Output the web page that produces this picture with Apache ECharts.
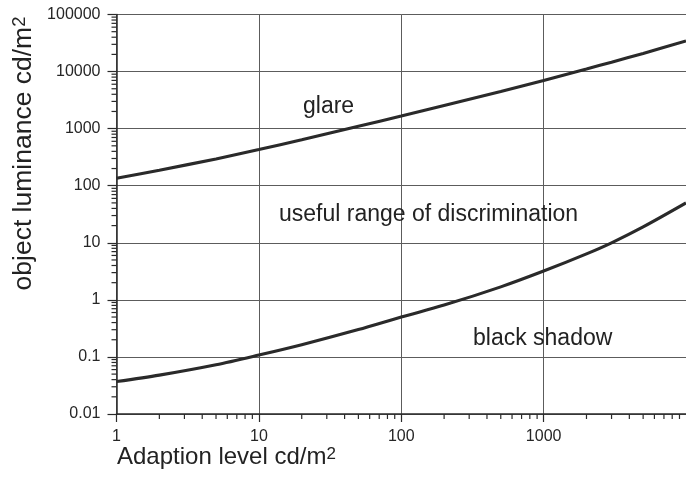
<!DOCTYPE html>
<html>
<head>
<meta charset="utf-8">
<script src="https://cdn.jsdelivr.net/npm/echarts@6/dist/echarts.min.js"></script>
<style>
  html, body { margin: 0; padding: 0; background: #fff; }
  #chart { width: 686px; height: 478px; }
</style>
</head>
<body>
<div id="chart"></div>
<script>
// Adaption level (cd/m²) and the two limit curves of object luminance (cd/m²)
const adaptionLevels = [1, 2, 5, 10, 20, 50, 100, 200, 500, 1000, 2000, 3000, 5000, 10000];
const glareLimit     = [135, 187, 295, 430, 640, 1100, 1660, 2540, 4490, 7000, 11100, 14600, 20800, 34400];
const shadowLimit    = [0.037, 0.048, 0.073, 0.108, 0.164, 0.302, 0.50, 0.81, 1.69, 3.2, 6.4, 10, 19, 50];

// Axis tick labels, one per decade
const xTickLabels = ['1', '10', '100', '1000', '10000'];
const yTickLabels = ['0.01', '0.1', '1', '10', '100', '1000', '10000', '100000'];

// Minor ticks: multiples 2..9 within each decade
const minorSteps = [2, 3, 4, 5, 6, 7, 8, 9];
const xDecades = [1, 10, 100, 1000];
const yDecades = [0.01, 0.1, 1, 10, 100, 1000, 10000];

const FONT = "'Liberation Sans', Arial, Helvetica, sans-serif";
const INK = '#2a2a2a';
const GRID = '#5c5c5c';

const xMinor = [];
xDecades.forEach(d => minorSteps.forEach(m => xMinor.push([d * m, 0.01])));
const yMinor = [];
yDecades.forEach(d => minorSteps.forEach(m => yMinor.push([1, +(d * m).toPrecision(3)])));

function decadeIndex(v) { return Math.round(Math.log10(v)); }

const chart = echarts.init(document.getElementById('chart'), null, { renderer: 'canvas' });

chart.setOption({
  animation: false,
  backgroundColor: '#ffffff',
  grid: { left: 116.5, right: -6, top: 14.5, bottom: 64 },
  xAxis: {
    type: 'log',
    logBase: 10,
    min: 1,
    max: 10000,
    axisLine: { show: true, onZero: false, lineStyle: { color: INK, width: 1.5 } },
    axisTick: { show: true, length: 8, lineStyle: { color: INK, width: 1.2 } },
    axisLabel: {
      fontFamily: FONT, fontSize: 16, color: '#262626', margin: 15,
      showMaxLabel: false,
      formatter: v => xTickLabels[decadeIndex(v)]
    },
    splitLine: { show: true, lineStyle: { color: GRID, width: 1 } }
  },
  yAxis: {
    type: 'log',
    logBase: 10,
    min: 0.01,
    max: 100000,
    axisLine: { show: true, lineStyle: { color: INK, width: 1.5 } },
    axisTick: { show: true, length: 9, lineStyle: { color: INK, width: 1.2 } },
    axisLabel: {
      fontFamily: FONT, fontSize: 16, color: '#262626', margin: 16,
      formatter: v => yTickLabels[decadeIndex(v) + 2]
    },
    splitLine: { show: true, lineStyle: { color: GRID, width: 1 } }
  },
  series: [
    {
      name: 'glare',
      type: 'line',
      data: adaptionLevels.map((x, i) => [x, glareLimit[i]]),
      smooth: 0.3,
      showSymbol: false,
      lineStyle: { color: INK, width: 3.1 },
      z: 5
    },
    {
      name: 'black shadow',
      type: 'line',
      data: adaptionLevels.map((x, i) => [x, shadowLimit[i]]),
      smooth: 0.3,
      showSymbol: false,
      lineStyle: { color: INK, width: 3.1 },
      z: 5
    },
    {
      // minor ticks below the x axis
      type: 'custom',
      coordinateSystem: 'cartesian2d',
      silent: true,
      clip: false,
      data: xMinor,
      renderItem: (params, api) => {
        const p = api.coord([api.value(0), api.value(1)]);
        return { type: 'line', shape: { x1: p[0], y1: p[1], x2: p[0], y2: p[1] + 5 },
                 style: { stroke: INK, lineWidth: 1.2 } };
      }
    },
    {
      // minor ticks left of the y axis
      type: 'custom',
      coordinateSystem: 'cartesian2d',
      silent: true,
      clip: false,
      data: yMinor,
      renderItem: (params, api) => {
        const p = api.coord([api.value(0), api.value(1)]);
        return { type: 'line', shape: { x1: p[0] - 5, y1: p[1], x2: p[0], y2: p[1] },
                 style: { stroke: INK, lineWidth: 1.2 } };
      }
    }
  ],
  graphic: [
    {
      type: 'text', x: 303, y: 107, z: 10,
      style: { text: 'glare', fontFamily: FONT, fontSize: 23, fill: '#222', align: 'left', verticalAlign: 'middle' }
    },
    {
      type: 'text', x: 279, y: 215, z: 10,
      style: { text: 'useful range of discrimination', fontFamily: FONT, fontSize: 23, fill: '#222', align: 'left', verticalAlign: 'middle' }
    },
    {
      type: 'text', x: 473, y: 338.5, z: 10,
      style: { text: 'black shadow', fontFamily: FONT, fontSize: 23, fill: '#222', align: 'left', verticalAlign: 'middle' }
    },
    {
      type: 'text', x: 117, y: 457.5, z: 10,
      style: {
        text: '{t|Adaption level cd/m}{s|2}',
        align: 'left', verticalAlign: 'middle',
        rich: {
          t: { fontFamily: FONT, fontSize: 24, lineHeight: 24, fill: '#222' },
          s: { fontFamily: FONT, fontSize: 17, lineHeight: 17, fill: '#222', verticalAlign: 'top' }
        }
      }
    },
    {
      type: 'text', x: 24, y: 153.5, rotation: Math.PI / 2, z: 10,
      style: {
        text: '{t|object luminance cd/m}{s|2}',
        align: 'center', verticalAlign: 'middle',
        rich: {
          t: { fontFamily: FONT, fontSize: 26.5, lineHeight: 26.5, fill: '#222' },
          s: { fontFamily: FONT, fontSize: 18.5, lineHeight: 18.5, fill: '#222', verticalAlign: 'top' }
        }
      }
    }
  ]
});
</script>
</body>
</html>
